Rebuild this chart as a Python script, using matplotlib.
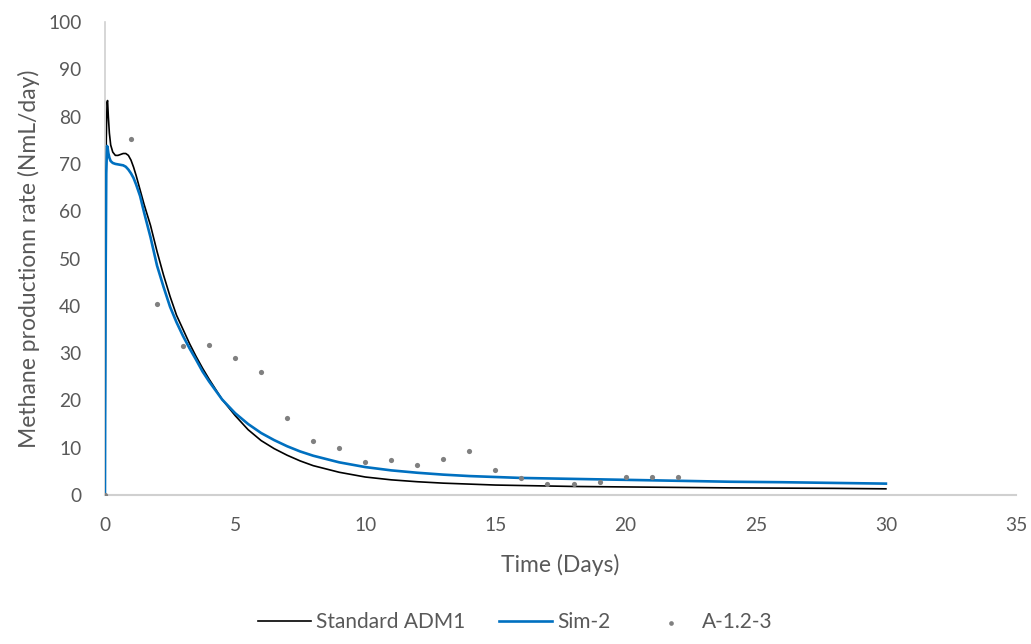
import matplotlib
matplotlib.use("Agg")
import matplotlib.pyplot as plt

# Simulation time points (days)
t_sim = [0, 0.02, 0.05, 0.08, 0.1, 0.13, 0.17, 0.22, 0.3, 0.4, 0.5, 0.6, 0.7, 0.8,
         0.9, 1.0, 1.1, 1.2, 1.35, 1.5, 1.75, 2.0, 2.25, 2.5, 2.75, 3.0, 3.25, 3.5,
         3.75, 4.0, 4.5, 5.0, 5.5, 6, 6.5, 7, 7.5, 8, 9, 10, 11, 12, 13, 14, 15, 16,
         18, 20, 22, 24, 26, 28, 30]

standard_adm1 = [0, 40, 75, 83, 83.4, 80, 76.5, 74, 72.5, 71.8, 71.8, 72.0, 72.2, 72.2,
                 71.8, 70.8, 69.3, 67.5, 64.5, 61.5, 57, 51.5, 46.5, 42, 38, 35, 32, 29.3,
                 26.8, 24.5, 20.2, 16.8, 13.8, 11.5, 9.8, 8.4, 7.2, 6.2, 4.8, 3.8, 3.2, 2.8,
                 2.5, 2.3, 2.1, 2.0, 1.8, 1.7, 1.6, 1.5, 1.45, 1.4, 1.3]

sim_2 = [0, 40, 68, 73.8, 73.5, 72.3, 71.3, 70.6, 70.2, 70.0, 69.9, 69.8, 69.7, 69.4,
         68.8, 68.0, 67.0, 65.6, 63.2, 59.8, 54.5, 48.5, 44.0, 39.8, 36.5, 33.6, 31.0,
         28.6, 26.1, 24.0, 20.2, 17.3, 15.0, 13.1, 11.6, 10.3, 9.2, 8.3, 6.9, 5.9, 5.2,
         4.7, 4.3, 4.0, 3.8, 3.6, 3.4, 3.2, 3.0, 2.8, 2.7, 2.55, 2.4]

# Experimental data
t_exp = list(range(0, 23))
a_123 = [0, 75.3, 40.4, 31.4, 31.8, 28.9, 26.0, 16.3, 11.5, 9.9, 6.9, 7.5, 6.3, 7.6,
         9.3, 5.3, 3.6, 2.3, 2.3, 2.7, 3.8, 3.8, 3.8]

x_ticks = [0, 5, 10, 15, 20, 25, 30, 35]
y_ticks = [0, 10, 20, 30, 40, 50, 60, 70, 80, 90, 100]

plt.rcParams['font.family'] = ['Lato', 'DejaVu Sans']

fig = plt.figure(figsize=(10.31, 6.44), dpi=100)
ax = fig.add_axes([0.1018, 0.2314, 0.8837, 0.7344])

ax.plot(t_sim, standard_adm1, color='black', lw=1.2, label='Standard ADM1', zorder=2)
ax.plot(t_sim, sim_2, color='#0070C0', lw=1.9, label='Sim-2', zorder=3)
ax.scatter(t_exp, a_123, s=14, color='#808080', label='A-1.2-3', zorder=4, linewidths=0)

ax.set_xlim(0, 35)
ax.set_ylim(0, 100)
ax.set_xticks(x_ticks)
ax.set_yticks(y_ticks)
ax.tick_params(length=0, labelsize=13.8, colors='#595959')
ax.tick_params(axis='y', pad=17)
ax.tick_params(axis='x', pad=16)

for s in ['top', 'right']:
    ax.spines[s].set_visible(False)
ax.spines['left'].set_color('#D0D0D0')
ax.spines['bottom'].set_color('#D0D0D0')
ax.spines['left'].set_linewidth(1.2)
ax.spines['bottom'].set_linewidth(1.5)

ax.set_xlabel('Time (Days)', fontsize=16.5, color='#595959', labelpad=14)
ax.set_ylabel('Methane productionn rate (NmL/day)', fontsize=16.5, color='#595959', labelpad=6)

leg = fig.legend(loc='center', bbox_to_anchor=(0.5, 0.034), ncol=3, frameon=False,
                 fontsize=15, handlelength=2.55, columnspacing=1.6, handletextpad=0.25,
                 markerscale=0.9)
for txt in leg.get_texts():
    txt.set_color('#595959')

fig.savefig('out.png', dpi=100)
